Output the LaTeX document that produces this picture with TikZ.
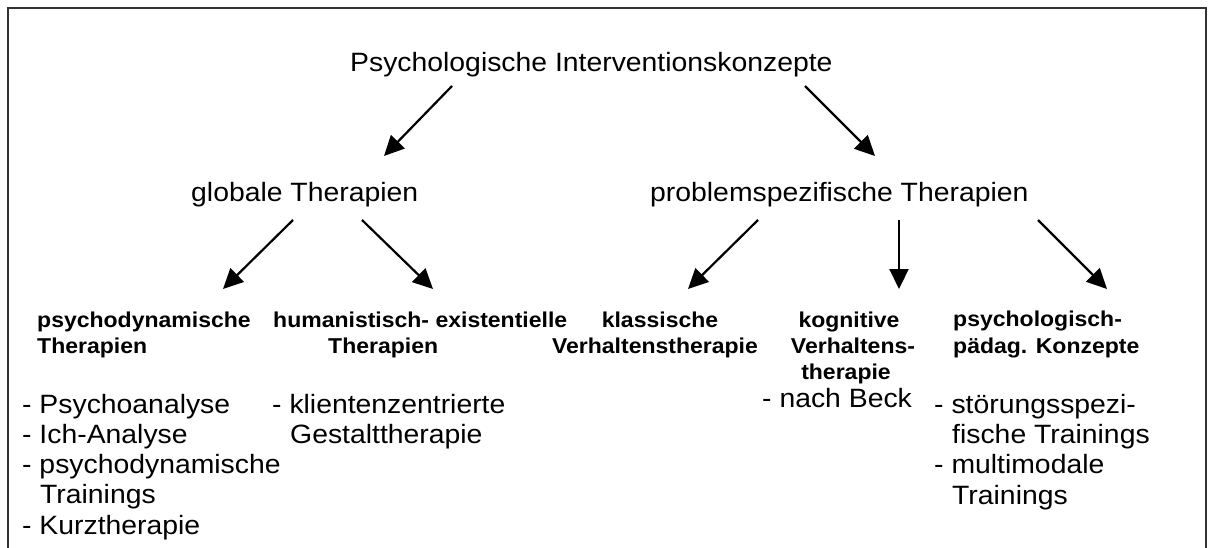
\documentclass[tikz,border=0pt]{standalone}
\usepackage{fontspec}
\setmainfont{Liberation Sans}[FakeStretch=1.07]
\usetikzlibrary{arrows.meta}
\begin{document}
\begin{tikzpicture}[x=1pt,y=-1pt,
  big/.style={inner sep=0pt,anchor=base west,font=\fontsize{26.5}{30.5}\selectfont},
  bigc/.style={inner sep=0pt,anchor=base,font=\fontsize{26.5}{30.5}\selectfont},
  head/.style={inner sep=0pt,anchor=base west,font=\fontsize{21.5}{26}\selectfont\bfseries},
  headc/.style={inner sep=0pt,anchor=base,font=\fontsize{21.5}{26}\selectfont\bfseries},
  arr/.style={line width=2.2pt,-{Triangle[length=20pt,width=19pt]}}]
\clip (0,0) rectangle (1210,548);
\fill[white] (0,0) rectangle (1210,548);
\draw[line width=1.6pt,black!80] (8,8) rectangle (1206,600);

% level 1 and 2
\node[big] (title) at (350,72) {Psychologische Interventionskonzepte};
\node[big] (glob) at (191,202) {globale Therapien};
\node[big] (prob) at (650,202) {problemspezifische Therapien};

% level 3 headings
\node[head] (pd1) at (37,327) {psychodynamische};
\node[head] (pd2) at (37,353) {Therapien};
\node[head] (hu1) at (273,327) {humanistisch- existentielle};
\node[head] (hu2) at (328,353) {Therapien};
\node[headc] (kl1) at (660,327) {klassische};
\node[headc] (kl2) at (655,353) {Verhaltenstherapie};
\node[headc] (kg1) at (849,327) {kognitive};
\node[headc] (kg2) at (853,353) {Verhaltens-};
\node[headc] (kg3) at (846,379) {therapie};
\node[head] (pp1) at (953,326) {psychologisch-};
\node[head] (pp2) at (953,353) {pädag. Konzepte};

% lists
\node[big] (l11) at (22,413) {- Psychoanalyse};
\node[big] (l12) at (22,443) {- Ich-Analyse};
\node[big] (l13) at (22,473) {- psychodynamische};
\node[big] (l14) at (40,503) {Trainings};
\node[big] (l15) at (22,534) {- Kurztherapie};
\node[big] (l21) at (272,413) {- klientenzentrierte};
\node[big] (l22) at (290,443) {Gestalttherapie};
\node[big] (l41) at (762,407) {- nach Beck};
\node[big] (l51) at (934,413) {- störungsspezi-};
\node[big] (l52) at (952,443) {fische Trainings};
\node[big] (l53) at (934,473) {- multimodale};
\node[big] (l54) at (952,504) {Trainings};

% arrow end points
\coordinate (t1) at (452,86);
\coordinate (g0) at (384,156);
\coordinate (t2) at (805,86);
\coordinate (p0) at (875,156);
\coordinate (g1) at (293,220);
\coordinate (pd0) at (223,289);
\coordinate (g2) at (362,220);
\coordinate (hu0) at (433,289);
\coordinate (p1) at (758,220);
\coordinate (kl0) at (688,289);
\coordinate (p2) at (899,220);
\coordinate (kg0) at (899,289);
\coordinate (p3) at (1038,220);
\coordinate (pp0) at (1107,289);

\draw[arr] (t1) -- (g0);
\draw[arr] (t2) -- (p0);
\draw[arr] (g1) -- (pd0);
\draw[arr] (g2) -- (hu0);
\draw[arr] (p1) -- (kl0);
\draw[arr] (p2) -- (kg0);
\draw[arr] (p3) -- (pp0);
\end{tikzpicture}
\end{document}
